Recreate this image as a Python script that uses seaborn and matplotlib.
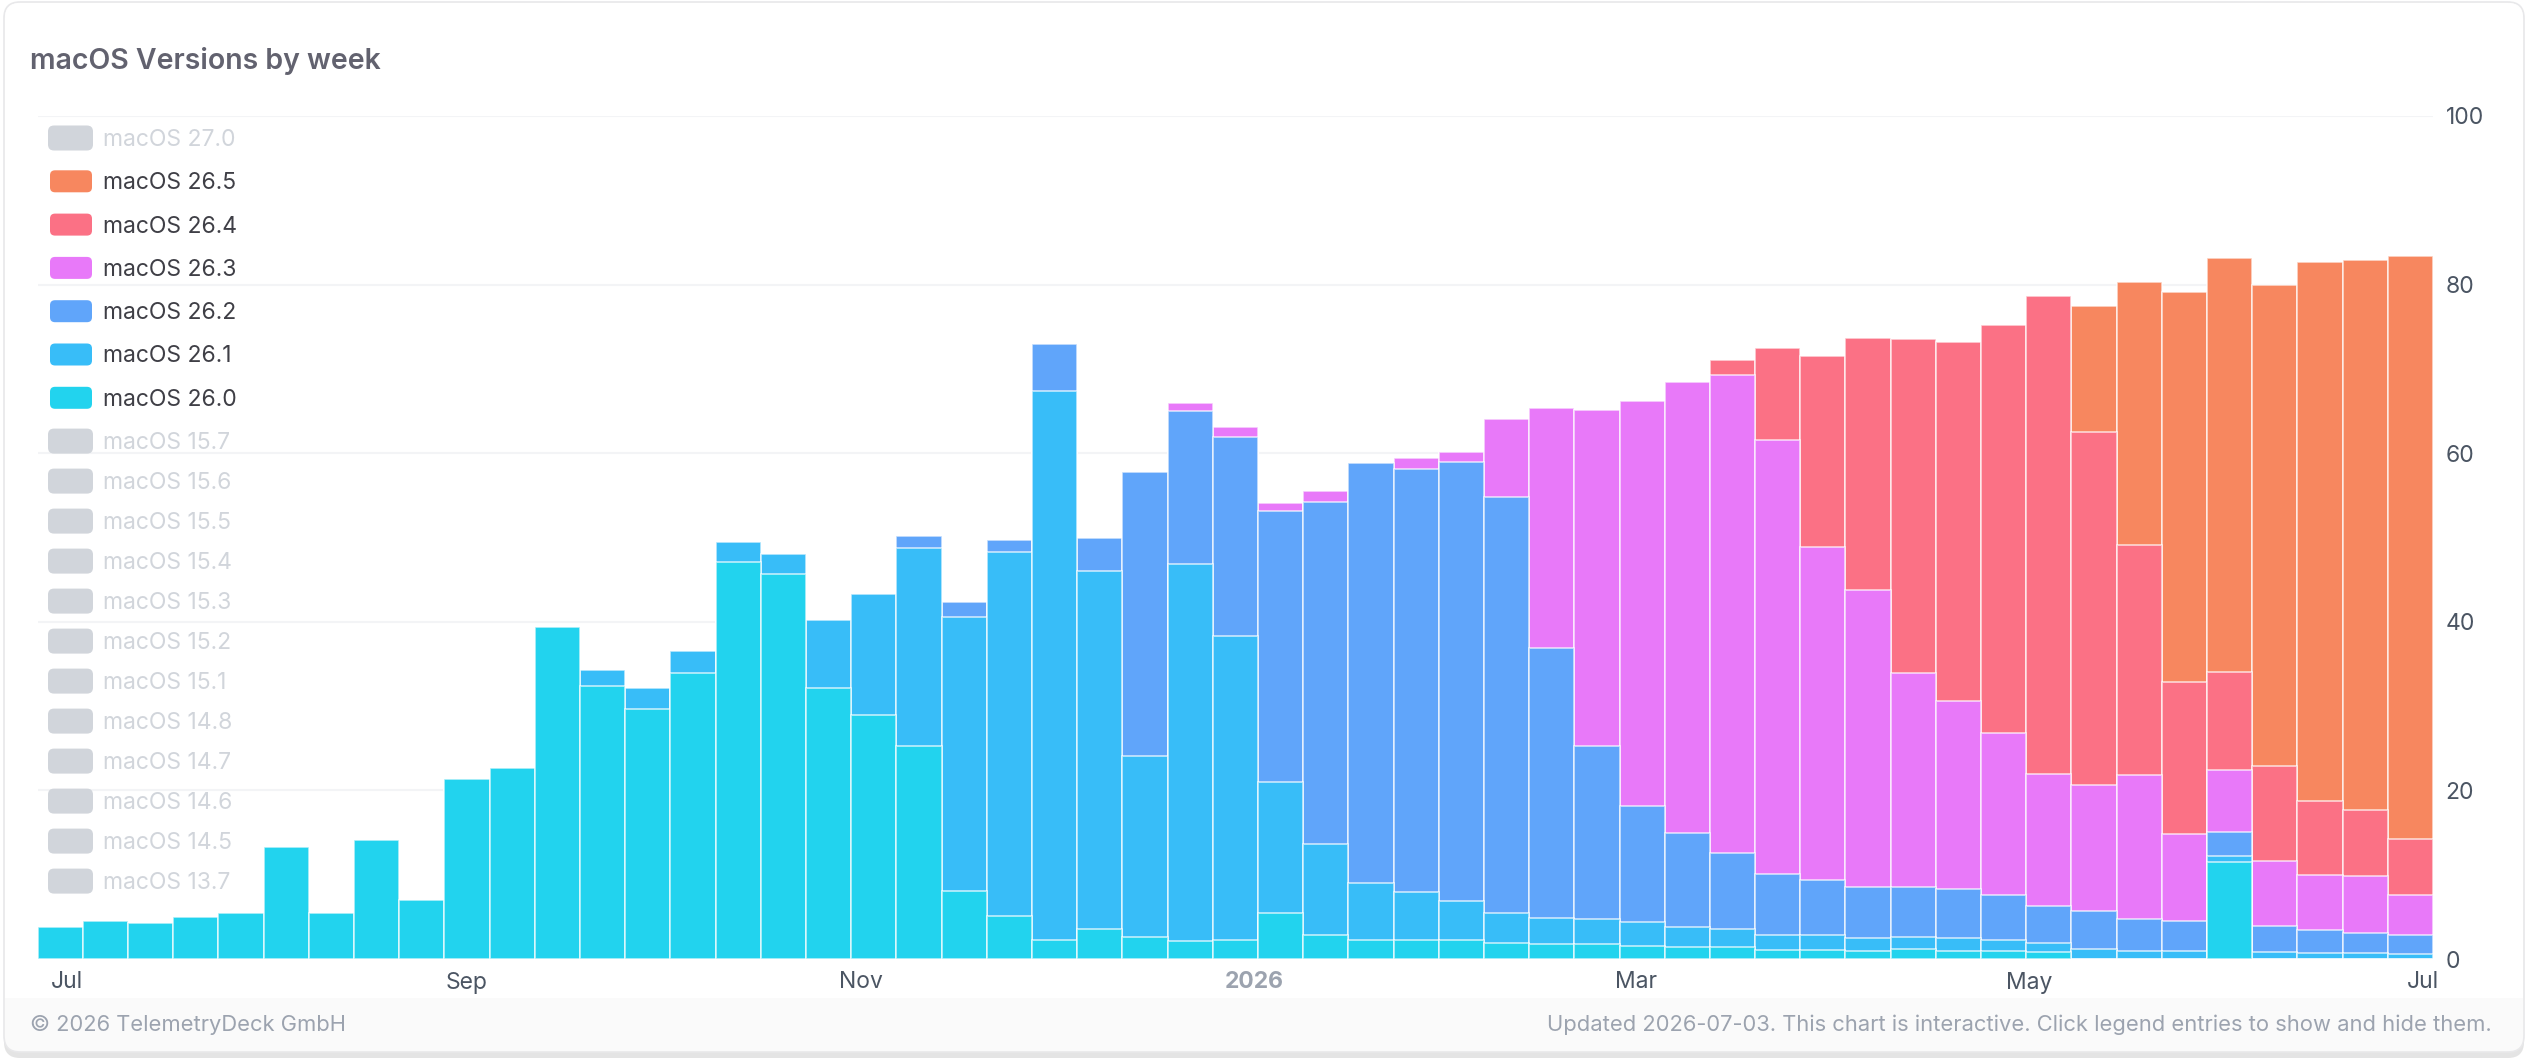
import numpy as np
import pandas as pd
import matplotlib
matplotlib.use("Agg")
import matplotlib.pyplot as plt
from matplotlib.patches import FancyBboxPatch, Rectangle
from matplotlib.transforms import IdentityTransform
import seaborn as sns

# weekly buckets, each bar centred on the Monday of its week
weeks = pd.date_range("2025-06-30", periods=53, freq="7D")

versions = ["macOS 26.0", "macOS 26.1", "macOS 26.2", "macOS 26.3", "macOS 26.4", "macOS 26.5"]

# share of users (%) per version and week
v26_0 = [3.8, 4.5, 4.3, 5.0, 5.4, 13.3, 5.4, 14.1, 7.0, 21.4, 22.6, 39.4, 32.4,
         29.6, 33.9, 47.1, 45.7, 32.2, 28.9, 25.3, 8.1, 5.1, 2.2, 3.6, 2.6, 2.1,
         2.3, 5.4, 2.8, 2.3, 2.3, 2.3, 1.9, 1.8, 1.8, 1.6, 1.4, 1.4, 1.1, 1.1,
         1.0, 1.15, 1.0, 0.9, 0.8, 0, 0, 0, 11.5, 0, 0, 0, 0]
v26_1 = [0, 0, 0, 0, 0, 0, 0, 0, 0, 0, 0, 0, 1.9,
         2.5, 2.6, 2.4, 2.3, 8.0, 14.4, 23.5, 32.5, 43.2, 65.2, 42.4, 21.5, 44.8,
         36.0, 15.6, 10.9, 6.7, 5.7, 4.6, 3.6, 3.1, 2.9, 2.8, 2.4, 2.1, 1.8, 1.7,
         1.5, 1.45, 1.45, 1.3, 1.1, 1.15, 0.95, 0.9, 0.7, 0.8, 0.7, 0.7, 0.55]
v26_2 = [0, 0, 0, 0, 0, 0, 0, 0, 0, 0, 0, 0, 0,
         0, 0, 0, 0, 0, 0, 1.4, 1.7, 1.4, 5.5, 3.9, 33.7, 18.1,
         23.6, 32.2, 40.5, 49.8, 50.1, 52.1, 49.3, 32.0, 20.6, 13.8, 11.2, 9.1, 7.2, 6.6,
         6.0, 6.0, 5.8, 5.4, 4.4, 4.5, 3.8, 3.6, 2.9, 3.1, 2.7, 2.4, 2.3]
v26_3 = [0, 0, 0, 0, 0, 0, 0, 0, 0, 0, 0, 0, 0,
         0, 0, 0, 0, 0, 0, 0, 0, 0, 0, 0, 0, 1.0,
         1.2, 0.9, 1.3, 0, 1.3, 1.2, 9.3, 28.5, 39.8, 48.0, 53.5, 56.7, 51.5, 39.5,
         35.3, 25.3, 22.4, 19.2, 15.6, 15.0, 17.1, 10.3, 7.3, 7.7, 6.6, 6.7, 4.7]
v26_4 = [0, 0, 0, 0, 0, 0, 0, 0, 0, 0, 0, 0, 0,
         0, 0, 0, 0, 0, 0, 0, 0, 0, 0, 0, 0, 0,
         0, 0, 0, 0, 0, 0, 0, 0, 0, 0, 0, 1.7, 10.9, 22.6,
         29.9, 39.6, 42.6, 48.4, 56.7, 41.9, 27.3, 18.0, 11.7, 11.3, 8.8, 7.9, 6.7]
v26_5 = [0, 0, 0, 0, 0, 0, 0, 0, 0, 0, 0, 0, 0,
         0, 0, 0, 0, 0, 0, 0, 0, 0, 0, 0, 0, 0,
         0, 0, 0, 0, 0, 0, 0, 0, 0, 0, 0, 0, 0, 0,
         0, 0, 0, 0, 0, 14.9, 31.2, 46.3, 49.0, 57.0, 63.9, 65.2, 69.2]

colors = {
    "macOS 26.0": "#22d3ee",
    "macOS 26.1": "#38bdf8",
    "macOS 26.2": "#60a5fa",
    "macOS 26.3": "#e879f9",
    "macOS 26.4": "#fb7185",
    "macOS 26.5": "#f7875f",
}

legend_items = ["macOS 27.0", "macOS 26.5", "macOS 26.4", "macOS 26.3", "macOS 26.2",
                "macOS 26.1", "macOS 26.0", "macOS 15.7", "macOS 15.6", "macOS 15.5",
                "macOS 15.4", "macOS 15.3", "macOS 15.2", "macOS 15.1", "macOS 14.8",
                "macOS 14.7", "macOS 14.6", "macOS 14.5", "macOS 13.7"]

tick_dates = pd.to_datetime(["2025-07-01", "2025-09-01", "2025-11-01", "2026-01-01",
                             "2026-03-01", "2026-05-01", "2026-07-01"])
tick_labels = ["Jul", "Sep", "Nov", "2026", "Mar", "May", "Jul"]

df = pd.DataFrame({"week": np.arange(len(weeks))})
for name, vals in zip(versions, [v26_0, v26_1, v26_2, v26_3, v26_4, v26_5]):
    df[name] = vals
tops = df[versions].cumsum(axis=1)

sns.set_theme(style="white")
plt.rcParams["font.family"] = ["Inter", "DejaVu Sans"]

W, H = 2528, 1060
fig = plt.figure(figsize=(W / 100, H / 100), dpi=100)
fig.patch.set_facecolor("white")
px = IdentityTransform()

# card with footer band and a soft bottom shadow
fig.add_artist(FancyBboxPatch((4, 2), 2520, 1052, boxstyle="round,pad=0,rounding_size=16",
                              facecolor="#e4e4e4", edgecolor="none", transform=px, zorder=0))
fig.add_artist(FancyBboxPatch((4, 8), 2520, 1050, boxstyle="round,pad=0,rounding_size=16",
                              facecolor="#fafafa", edgecolor="#e8e8ea", linewidth=1.2,
                              transform=px, zorder=0))
fig.add_artist(FancyBboxPatch((5, 62), 2518, 995, boxstyle="round,pad=0,rounding_size=15",
                              facecolor="white", edgecolor="none", transform=px, zorder=0))
fig.add_artist(Rectangle((5, 62), 2518, 40, facecolor="white", edgecolor="none",
                         transform=px, zorder=0))

ax = fig.add_axes([37.7 / W, 1 - 959 / H, (2433 - 37.7) / W, (959 - 116) / H])
ax.set_facecolor("none")

# stacked bars: draw cumulative tops from the top layer down
for name in reversed(versions):
    sns.barplot(x=df["week"], y=tops[name], color=colors[name], width=1.0,
                saturation=1, edgecolor=(1, 1, 1, 0.7), linewidth=1.2,
                errorbar=None, ax=ax)

ax.set_xlim(-0.5, len(weeks) - 0.5)
ax.set_ylim(0, 100)
ax.set_xlabel("")
ax.set_ylabel("")
for s in ax.spines.values():
    s.set_visible(False)

tick_pos = (tick_dates - weeks[0]).days / 7
ax.set_xticks(tick_pos)
ax.set_xticklabels(tick_labels)
ax.tick_params(axis="x", length=0, pad=9, labelsize=16.5, labelcolor="#4b5563")
for lbl in ax.get_xticklabels():
    if lbl.get_text() == "2026":
        lbl.set_color("#9ca3af")
        lbl.set_fontweight("bold")

ax.yaxis.tick_right()
ax.set_yticks([0, 20, 40, 60, 80, 100])
ax.tick_params(axis="y", length=0, pad=9, labelsize=16.5, labelcolor="#4b5563")
ax.yaxis.grid(True, color="#f3f4f6", linewidth=1.5)
ax.set_axisbelow(True)

# title
fig.text(30, H - 69, "macOS Versions by week", transform=px, fontsize=20.5,
         fontweight="semibold", color="#62626f", va="baseline", ha="left")

# legend (hidden entries greyed out); rows next to shown entries are a bit taller
cy_top = 138.0
prev_active = False
for k, item in enumerate(legend_items):
    active = item in colors
    if k > 0:
        cy_top += 43.3 if (active or prev_active) else 40.0
    prev_active = active
    cy = H - cy_top
    if active:
        box = FancyBboxPatch((50, cy - 11), 42, 22, boxstyle="round,pad=0,rounding_size=5",
                             facecolor=colors[item], edgecolor="none", transform=px, zorder=5)
        tcol = "#3f3f46"
    else:
        box = FancyBboxPatch((48, cy - 12.5), 45, 25, boxstyle="round,pad=0,rounding_size=6",
                             facecolor="#d1d5db", edgecolor="none", transform=px, zorder=5)
        tcol = "#d1d5db"
    fig.add_artist(box)
    fig.text(103, cy - 8, item, transform=px, fontsize=16.5, color=tcol,
             va="baseline", ha="left", zorder=6)

# footer
fig.text(30, H - 1025, "\u00a9 2026 TelemetryDeck GmbH", transform=px, fontsize=15.8,
         color="#9ca3af", va="center", ha="left")
fig.text(2492, H - 1025,
         "Updated 2026-07-03. This chart is interactive. Click legend entries to show and hide them.",
         transform=px, fontsize=15.8, color="#9ca3af", va="center", ha="right")

fig.savefig("out.png", dpi=100)
